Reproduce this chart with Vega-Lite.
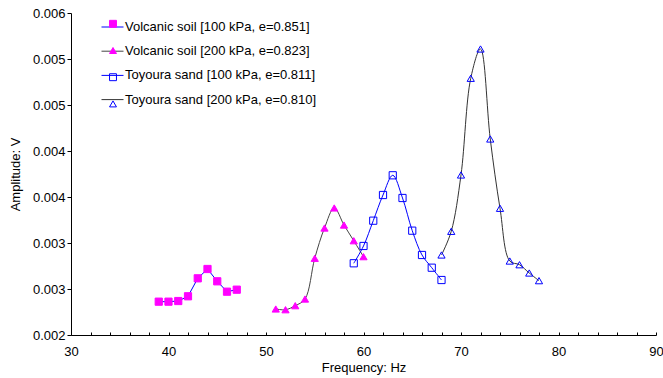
{
  "$schema": "https://vega.github.io/schema/vega-lite/v6.json",
  "width": 585,
  "height": 322,
  "autosize": {"type": "none"},
  "padding": {"left": 71, "top": 13, "right": 7, "bottom": 43},
  "background": "white",
  "config": {
    "font": "Liberation Sans",
    "view": {"stroke": null},
    "axis": {
      "labelFont": "Liberation Sans",
      "titleFont": "Liberation Sans",
      "labelFontSize": 13,
      "titleFontSize": 13,
      "titleFontWeight": "normal",
      "labelColor": "black",
      "titleColor": "black",
      "domainColor": "black",
      "tickColor": "black",
      "grid": false
    },
    "legend": {
      "labelFont": "Liberation Sans",
      "labelFontSize": 13,
      "labelColor": "black",
      "labelLimit": 0
    }
  },
  "data": {
    "values": [
      {"series": "Volcanic soil [100 kPa, e=0.851]", "freq": 39, "amp": 0.002414},
      {"series": "Volcanic soil [100 kPa, e=0.851]", "freq": 40, "amp": 0.002414},
      {"series": "Volcanic soil [100 kPa, e=0.851]", "freq": 41, "amp": 0.002422},
      {"series": "Volcanic soil [100 kPa, e=0.851]", "freq": 42, "amp": 0.002481},
      {"series": "Volcanic soil [100 kPa, e=0.851]", "freq": 43, "amp": 0.002704},
      {"series": "Volcanic soil [100 kPa, e=0.851]", "freq": 44, "amp": 0.00282},
      {"series": "Volcanic soil [100 kPa, e=0.851]", "freq": 45, "amp": 0.002667},
      {"series": "Volcanic soil [100 kPa, e=0.851]", "freq": 46, "amp": 0.002538},
      {"series": "Volcanic soil [100 kPa, e=0.851]", "freq": 47, "amp": 0.002563},
      {"series": "Volcanic soil [200 kPa, e=0.823]", "freq": 51, "amp": 0.002323},
      {"series": "Volcanic soil [200 kPa, e=0.823]", "freq": 52, "amp": 0.002314},
      {"series": "Volcanic soil [200 kPa, e=0.823]", "freq": 53, "amp": 0.002364},
      {"series": "Volcanic soil [200 kPa, e=0.823]", "freq": 54, "amp": 0.002447},
      {"series": "Volcanic soil [200 kPa, e=0.823]", "freq": 55, "amp": 0.002953},
      {"series": "Volcanic soil [200 kPa, e=0.823]", "freq": 56, "amp": 0.003329},
      {"series": "Volcanic soil [200 kPa, e=0.823]", "freq": 57, "amp": 0.003578},
      {"series": "Volcanic soil [200 kPa, e=0.823]", "freq": 58, "amp": 0.003366},
      {"series": "Volcanic soil [200 kPa, e=0.823]", "freq": 59, "amp": 0.003171},
      {"series": "Volcanic soil [200 kPa, e=0.823]", "freq": 60, "amp": 0.002973},
      {"series": "Toyoura sand [100 kPa, e=0.811]", "freq": 59, "amp": 0.002891},
      {"series": "Toyoura sand [100 kPa, e=0.811]", "freq": 60, "amp": 0.003106},
      {"series": "Toyoura sand [100 kPa, e=0.811]", "freq": 61, "amp": 0.00342},
      {"series": "Toyoura sand [100 kPa, e=0.811]", "freq": 62, "amp": 0.003739},
      {"series": "Toyoura sand [100 kPa, e=0.811]", "freq": 63, "amp": 0.003984},
      {"series": "Toyoura sand [100 kPa, e=0.811]", "freq": 64, "amp": 0.003702},
      {"series": "Toyoura sand [100 kPa, e=0.811]", "freq": 65, "amp": 0.003296},
      {"series": "Toyoura sand [100 kPa, e=0.811]", "freq": 66, "amp": 0.002994},
      {"series": "Toyoura sand [100 kPa, e=0.811]", "freq": 67, "amp": 0.002836},
      {"series": "Toyoura sand [100 kPa, e=0.811]", "freq": 68, "amp": 0.002683},
      {"series": "Toyoura sand [200 kPa, e=0.810]", "freq": 68, "amp": 0.002994},
      {"series": "Toyoura sand [200 kPa, e=0.810]", "freq": 69, "amp": 0.003288},
      {"series": "Toyoura sand [200 kPa, e=0.810]", "freq": 70, "amp": 0.003988},
      {"series": "Toyoura sand [200 kPa, e=0.810]", "freq": 71, "amp": 0.005189},
      {"series": "Toyoura sand [200 kPa, e=0.810]", "freq": 72, "amp": 0.005553},
      {"series": "Toyoura sand [200 kPa, e=0.810]", "freq": 73, "amp": 0.004435},
      {"series": "Toyoura sand [200 kPa, e=0.810]", "freq": 74, "amp": 0.003574},
      {"series": "Toyoura sand [200 kPa, e=0.810]", "freq": 75, "amp": 0.002919},
      {"series": "Toyoura sand [200 kPa, e=0.810]", "freq": 76, "amp": 0.002873},
      {"series": "Toyoura sand [200 kPa, e=0.810]", "freq": 77, "amp": 0.00277},
      {"series": "Toyoura sand [200 kPa, e=0.810]", "freq": 78, "amp": 0.002675}
    ]
  },
  "encoding": {
    "x": {
      "field": "freq",
      "type": "quantitative",
      "scale": {"domain": [30, 90], "nice": false, "zero": false},
      "axis": {
        "title": "Frequency: Hz",
        "values": [30, 32, 34, 36, 38, 40, 42, 44, 46, 48, 50, 52, 54, 56, 58, 60, 62, 64, 66, 68, 70, 72, 74, 76, 78, 80, 82, 84, 86, 88, 90],
        "labelExpr": "datum.value % 10 === 0 ? datum.label : ''",
        "labelOverlap": false,
        "labelFlush": false,
        "tickSize": -3,
        "labelPadding": 13,
        "titlePadding": 3
      }
    },
    "y": {
      "field": "amp",
      "type": "quantitative",
      "scale": {"domain": [0.002, 0.006], "nice": false, "zero": false},
      "axis": {
        "title": "Amplitude: V",
        "values": [0.002, 0.0025714286, 0.0031428571, 0.0037142857, 0.0042857143, 0.0048571429, 0.0054285714, 0.006],
        "format": ".3f",
        "tickSize": 4,
        "labelPadding": 2,
        "titlePadding": 10
      }
    }
  },
  "layer": [
    {
      "transform": [{"filter": "datum.series === 'Volcanic soil [100 kPa, e=0.851]'"}],
      "mark": {"type": "line", "strokeWidth": 1, "interpolate": "linear"},
      "encoding": {
        "stroke": {
          "field": "series",
          "type": "nominal",
          "sort": ["Volcanic soil [100 kPa, e=0.851]", "Volcanic soil [200 kPa, e=0.823]", "Toyoura sand [100 kPa, e=0.811]", "Toyoura sand [200 kPa, e=0.810]"],
          "scale": {"range": ["#0000ff", "#444444", "#0000ff", "#333333"]},
          "legend": {
            "title": null,
            "orient": "none",
            "legendX": 30,
            "legendY": 2.5,
            "padding": 0,
            "symbolType": "stroke",
            "symbolSize": 484,
            "symbolStrokeWidth": 1,
            "labelOffset": 1,
            "rowPadding": 5.2
          }
        }
      }
    },
    {
      "transform": [{"filter": "datum.series !== 'Volcanic soil [100 kPa, e=0.851]'"}],
      "mark": {"type": "line", "strokeWidth": 1, "interpolate": "catmull-rom"},
      "encoding": {
        "stroke": {
          "field": "series",
          "type": "nominal",
          "sort": ["Volcanic soil [100 kPa, e=0.851]", "Volcanic soil [200 kPa, e=0.823]", "Toyoura sand [100 kPa, e=0.811]", "Toyoura sand [200 kPa, e=0.810]"]
        }
      }
    },
    {
      "mark": {"type": "point", "filled": false, "opacity": 1, "strokeWidth": 1, "size": 52},
      "encoding": {
        "shape": {
          "field": "series",
          "type": "nominal",
          "scale": {
            "domain": ["Volcanic soil [100 kPa, e=0.851]", "Volcanic soil [200 kPa, e=0.823]", "Toyoura sand [100 kPa, e=0.811]", "Toyoura sand [200 kPa, e=0.810]"],
            "range": ["square", "triangle-up", "square", "triangle-up"]
          },
          "legend": {
            "title": null,
            "orient": "none",
            "legendX": 35.5,
            "legendY": 4.3,
            "padding": 0,
            "symbolSize": 48,
            "symbolStrokeWidth": 1,
            "symbolOpacity": 1,
            "labelOffset": 1,
            "rowPadding": 12.7,
            "labelOpacity": 0
          }
        },
        "color": {
          "field": "series",
          "type": "nominal",
          "scale": {
            "domain": ["Volcanic soil [100 kPa, e=0.851]", "Volcanic soil [200 kPa, e=0.823]", "Toyoura sand [100 kPa, e=0.811]", "Toyoura sand [200 kPa, e=0.810]"],
            "range": ["#ff00ff", "#ff00ff", "#0000ff", "#0000ff"]
          },
          "legend": {
            "title": null,
            "orient": "none",
            "legendX": 35.5,
            "legendY": 4.3,
            "padding": 0,
            "symbolSize": 48,
            "symbolStrokeWidth": 1,
            "symbolOpacity": 1,
            "labelOffset": 1,
            "rowPadding": 12.7,
            "labelOpacity": 0
          }
        },
        "fill": {
          "field": "series",
          "type": "nominal",
          "scale": {
            "domain": ["Volcanic soil [100 kPa, e=0.851]", "Volcanic soil [200 kPa, e=0.823]", "Toyoura sand [100 kPa, e=0.811]", "Toyoura sand [200 kPa, e=0.810]"],
            "range": ["#ff00ff", "#ff00ff", "transparent", "transparent"]
          },
          "legend": {
            "title": null,
            "orient": "none",
            "legendX": 35.5,
            "legendY": 4.3,
            "padding": 0,
            "symbolSize": 48,
            "symbolStrokeWidth": 1,
            "symbolOpacity": 1,
            "labelOffset": 1,
            "rowPadding": 12.7,
            "labelOpacity": 0
          }
        }
      }
    }
  ]
}
